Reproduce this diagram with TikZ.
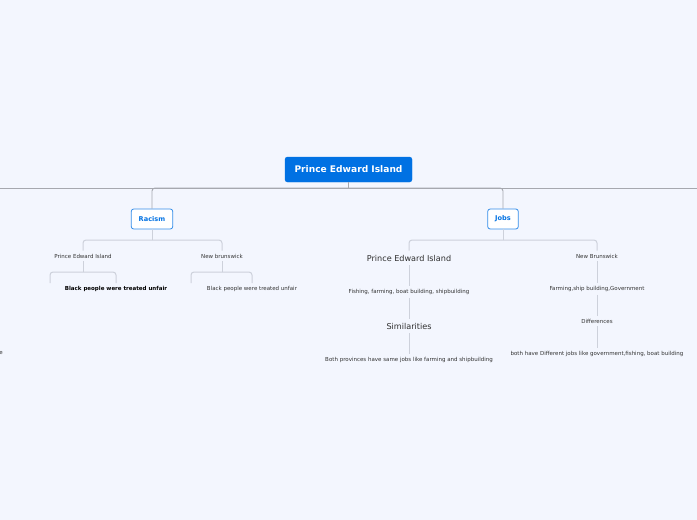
\documentclass[tikz,border=0pt]{standalone}
\usepackage{fontspec}
\setmainfont{DejaVu Sans}

\definecolor{bgblue}{HTML}{F3F6FE}
\definecolor{rootblue}{HTML}{0071E3}
\definecolor{busgray}{HTML}{A6A8AF}
\definecolor{twiggray}{HTML}{CDD1DB}
\definecolor{leafgray}{HTML}{333333}

\begin{document}
\begin{tikzpicture}[x=1pt,y=-1pt,
    rootbox/.style={fill=rootblue,draw=rootblue,rounded corners=2.5pt,text=white,
      font=\bfseries\fontsize{9.1}{10}\selectfont,minimum width=127pt,minimum height=25pt,inner sep=0pt},
    topicbox/.style={fill=white,draw=rootblue!80,line width=0.8pt,rounded corners=2.5pt,text=rootblue,
      font=\bfseries\fontsize{6.6}{7}\selectfont,minimum height=20pt,inner xsep=7.5pt,inner ysep=0pt},
    leaf/.style={text=leafgray,font=\fontsize{5.5}{6}\selectfont,inner sep=3pt},
    bigleaf/.style={text=leafgray!90!black,font=\fontsize{8.1}{9}\selectfont,inner sep=4pt},
    bus/.style={draw=busgray,line width=0.9pt},
    twig/.style={draw=twiggray,line width=1pt,rounded corners=3pt}]
  \fill[bgblue] (0,0) rectangle (697,520);
  \useasboundingbox (0,0) rectangle (697,520);

  \draw
    (348.5,169.5) node[rootbox] (root){Prince Edward Island}
    (152,219) node[topicbox] (racism){Racism}
    (503,219) node[topicbox] (jobs){Jobs};
  \coordinate (busL) at (0,188);
  \coordinate (busR) at (697,188);
  \coordinate (rootbus) at (348.5,188);

  % racism side
  \draw
    (83,256) node[leaf] (racpei){Prince Edward Island}
    (222,256) node[leaf] (racnb){New brunswick}
    (116,289) node[leaf,font=\bfseries\fontsize{5.5}{6}\selectfont,text=black] (racpeileaf){Black people were treated unfair}
    (252,289) node[leaf] (racnbleaf){Black people were treated unfair}
    (1,353) node[leaf,inner sep=0pt] (cut){e};
  \coordinate (racbus) at (152,240);
  \coordinate (racpeibus) at (83,272);
  \coordinate (racnbbus) at (222,272);
  \coordinate (racpeiempty) at (50,283);
  \coordinate (racnbempty) at (191,283);

  % jobs side
  \draw
    (409,258) node[bigleaf] (jobpei){Prince Edward Island}
    (597,256) node[leaf] (jobnb){New Brunswick}
    (409,292) node[leaf] (jobpeiwork){Fishing, farming, boat building, shipbuilding}
    (409,326) node[bigleaf] (same){Similarities}
    (409,360) node[leaf] (sameleaf){Both provinces have same jobs like farming and shipbuilding}
    (597,289) node[leaf] (jobnbwork){Farming,ship building,Government}
    (597,321) node[leaf] (diff){Differences}
    (597,354) node[leaf] (diffleaf){both have Different jobs like government,fishing, boat building};
  \coordinate (jobbus) at (503,240);

  \begin{scope}[bus]
    \draw (busL) -- (busR);
    \draw (root) -- (rootbus);
    \draw[rounded corners=3pt] (rootbus) -| (racism);
    \draw[rounded corners=3pt] (rootbus) -| (jobs);
  \end{scope}
  \begin{scope}[twig]
    \draw (racism) -- (racbus);
    \draw (racbus) -| (racpei);
    \draw (racbus) -| (racnb);
    \draw (racpei) -- (racpeibus);
    \draw (racpeibus) -| (racpeiempty);
    \draw (racpeibus) -| (racpeileaf.north -| 116,283);
    \draw (racnb) -- (racnbbus);
    \draw (racnbbus) -| (racnbempty);
    \draw (racnbbus) -| (racnbleaf.north -| 252,283);
    \draw (jobs) -- (jobbus);
    \draw (jobbus) -| (jobpei);
    \draw (jobbus) -| (jobnb);
    \draw (jobpei) -- (jobpeiwork);
    \draw (jobpeiwork) -- (same);
    \draw (same) -- (sameleaf);
    \draw (jobnb) -- (jobnbwork);
    \draw (jobnbwork) -- (diff);
    \draw (diff) -- (diffleaf);
  \end{scope}
\end{tikzpicture}
\end{document}
